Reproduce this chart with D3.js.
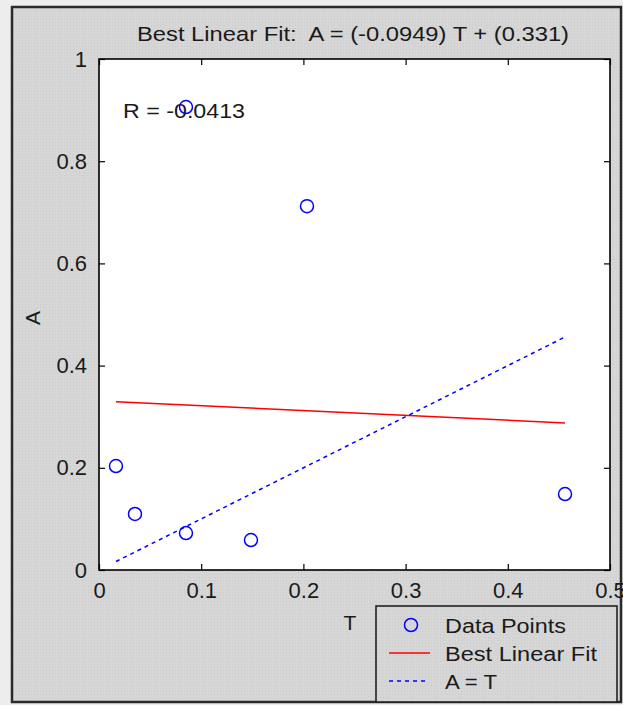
<!DOCTYPE html>
<html>
<head>
<meta charset="utf-8">
<script src="https://cdn.jsdelivr.net/npm/d3@7"></script>
<style>
  html, body { margin: 0; padding: 0; background: #ededed; }
  svg { display: block; }
  text { font-family: "Liberation Sans", Arial, sans-serif; fill: #1a1a1a; }
</style>
</head>
<body>
<svg id="chart" width="623" height="705"></svg>
<script>
// Targets (T) and network outputs (A)
const tValues = [0.0166, 0.0352, 0.0851, 0.0851, 0.1487, 0.2035, 0.456];
const aValues = [0.2035, 0.1096, 0.0724, 0.906, 0.0587, 0.712, 0.1487];

// Regression results
const fitSlope = -0.0949;
const fitIntercept = 0.331;
const rValue = -0.0413;

// Axis ticks
const xTicks = [0, 0.1, 0.2, 0.3, 0.4, 0.5];
const yTicks = [0, 0.2, 0.4, 0.6, 0.8, 1];

// Legend entries
const legendLabels = ["Data Points", "Best Linear Fit", "A = T"];

const svg = d3.select("#chart");

// Figure background with a fine dot texture
const defs = svg.append("defs");
const pat = defs.append("pattern")
  .attr("id", "figbg").attr("width", 3).attr("height", 3)
  .attr("patternUnits", "userSpaceOnUse");
pat.append("rect").attr("width", 3).attr("height", 3).attr("fill", "#d6d6d6");
pat.append("rect").attr("x", 1).attr("y", 1).attr("width", 1).attr("height", 1).attr("fill", "#cbcbcb");

svg.append("rect")
  .attr("x", 12).attr("y", 7).attr("width", 609).attr("height", 695)
  .attr("fill", "url(#figbg)")
  .attr("stroke", "#2a2a2a").attr("stroke-width", 2.5);

const plot = { left: 99, right: 610, top: 59, bottom: 570 };

const x = d3.scaleLinear().domain([0, 0.5]).range([plot.left, plot.right]);
const y = d3.scaleLinear().domain([0, 1]).range([plot.bottom, plot.top]);

// Axes area
svg.append("rect")
  .attr("x", plot.left).attr("y", plot.top)
  .attr("width", plot.right - plot.left).attr("height", plot.bottom - plot.top)
  .attr("fill", "#ffffff");

const clip = defs.append("clipPath").attr("id", "plotclip");
clip.append("rect")
  .attr("x", plot.left).attr("y", plot.top)
  .attr("width", plot.right - plot.left).attr("height", plot.bottom - plot.top);

const tickLen = 6;
const styleAxis = g => {
  g.select(".domain").remove();
  g.selectAll(".tick line").attr("stroke", "#000").attr("stroke-width", 1.2);
  g.selectAll(".tick text").attr("font-size", 22).attr("fill", "#1a1a1a")
    .attr("font-family", "\"Liberation Sans\", Arial, sans-serif");
};

// Bottom axis (inward ticks, labels outside)
svg.append("g")
  .attr("transform", `translate(0,${plot.bottom})`)
  .call(d3.axisBottom(x).tickValues(xTicks).tickFormat(d3.format("")).tickSize(-tickLen).tickPadding(12))
  .call(styleAxis);
// Top axis ticks only
svg.append("g")
  .attr("transform", `translate(0,${plot.top})`)
  .call(d3.axisTop(x).tickValues(xTicks).tickFormat("").tickSize(-tickLen))
  .call(styleAxis);
// Left axis
svg.append("g")
  .attr("transform", `translate(${plot.left},0)`)
  .call(d3.axisLeft(y).tickValues(yTicks).tickFormat(d3.format("")).tickSize(-tickLen).tickPadding(12))
  .call(styleAxis);
// Right axis ticks only
svg.append("g")
  .attr("transform", `translate(${plot.right},0)`)
  .call(d3.axisRight(y).tickValues(yTicks).tickFormat("").tickSize(-tickLen))
  .call(styleAxis);

// Axes box
svg.append("rect")
  .attr("x", plot.left).attr("y", plot.top)
  .attr("width", plot.right - plot.left).attr("height", plot.bottom - plot.top)
  .attr("fill", "none").attr("stroke", "#000").attr("stroke-width", 1.6);

const tMin = d3.min(tValues), tMax = d3.max(tValues);
const g = svg.append("g").attr("clip-path", "url(#plotclip)");

// Best linear fit line
g.append("line")
  .attr("x1", x(tMin)).attr("y1", y(fitSlope * tMin + fitIntercept))
  .attr("x2", x(tMax)).attr("y2", y(fitSlope * tMax + fitIntercept))
  .attr("stroke", "#ff0000").attr("stroke-width", 1.5);

// A = T reference line
g.append("line")
  .attr("x1", x(tMin)).attr("y1", y(tMin))
  .attr("x2", x(tMax)).attr("y2", y(tMax))
  .attr("stroke", "#0000ff").attr("stroke-width", 1.5)
  .attr("stroke-dasharray", "4,4");

// R annotation
svg.append("text")
  .attr("x", x(0.0235)).attr("y", y(0.884))
  .attr("font-size", 20).attr("textLength", 122).attr("lengthAdjust", "spacingAndGlyphs")
  .text(`R = ${rValue}`);

// Data points
svg.append("g").selectAll("circle")
  .data(tValues.map((t, i) => ({ t, a: aValues[i] })))
  .join("circle")
  .attr("cx", d => x(d.t)).attr("cy", d => y(d.a))
  .attr("r", 6.5)
  .attr("fill", "none").attr("stroke", "#0000ff").attr("stroke-width", 1.5);

// Title
svg.append("text")
  .attr("x", 353).attr("y", 41)
  .attr("text-anchor", "middle")
  .attr("font-size", 20).attr("textLength", 432).attr("lengthAdjust", "spacingAndGlyphs")
  .text(`Best Linear Fit:\u00a0 A = (${fitSlope}) T + (${fitIntercept})`);

// Axis labels
svg.append("text")
  .attr("x", 350).attr("y", 630)
  .attr("text-anchor", "middle").attr("font-size", 21)
  .text("T");
svg.append("text")
  .attr("transform", "translate(40,318) rotate(-90)")
  .attr("text-anchor", "middle").attr("font-size", 21)
  .text("A");

// Legend
const lg = svg.append("g").attr("transform", "translate(376,606)");
lg.append("rect")
  .attr("width", 241).attr("height", 96)
  .attr("fill", "url(#figbg)")
  .attr("stroke", "#222").attr("stroke-width", 1.6);

const rowY = [19, 47, 75];
lg.append("circle")
  .attr("cx", 35).attr("cy", rowY[0]).attr("r", 6.5)
  .attr("fill", "none").attr("stroke", "#0000ff").attr("stroke-width", 1.5);
lg.append("line")
  .attr("x1", 13).attr("x2", 54).attr("y1", rowY[1]).attr("y2", rowY[1])
  .attr("stroke", "#ff0000").attr("stroke-width", 1.5);
lg.append("line")
  .attr("x1", 13).attr("x2", 52).attr("y1", rowY[2]).attr("y2", rowY[2])
  .attr("stroke", "#0000ff").attr("stroke-width", 1.5)
  .attr("stroke-dasharray", "4,4");

const legendWidths = [121, 152, 52];
lg.selectAll("text.lbl")
  .data(legendLabels)
  .join("text")
  .attr("class", "lbl")
  .attr("x", 69)
  .attr("y", (d, i) => rowY[i] + 8)
  .attr("font-size", 20)
  .attr("textLength", (d, i) => legendWidths[i])
  .attr("lengthAdjust", "spacingAndGlyphs")
  .text(d => d);
</script>
</body>
</html>
